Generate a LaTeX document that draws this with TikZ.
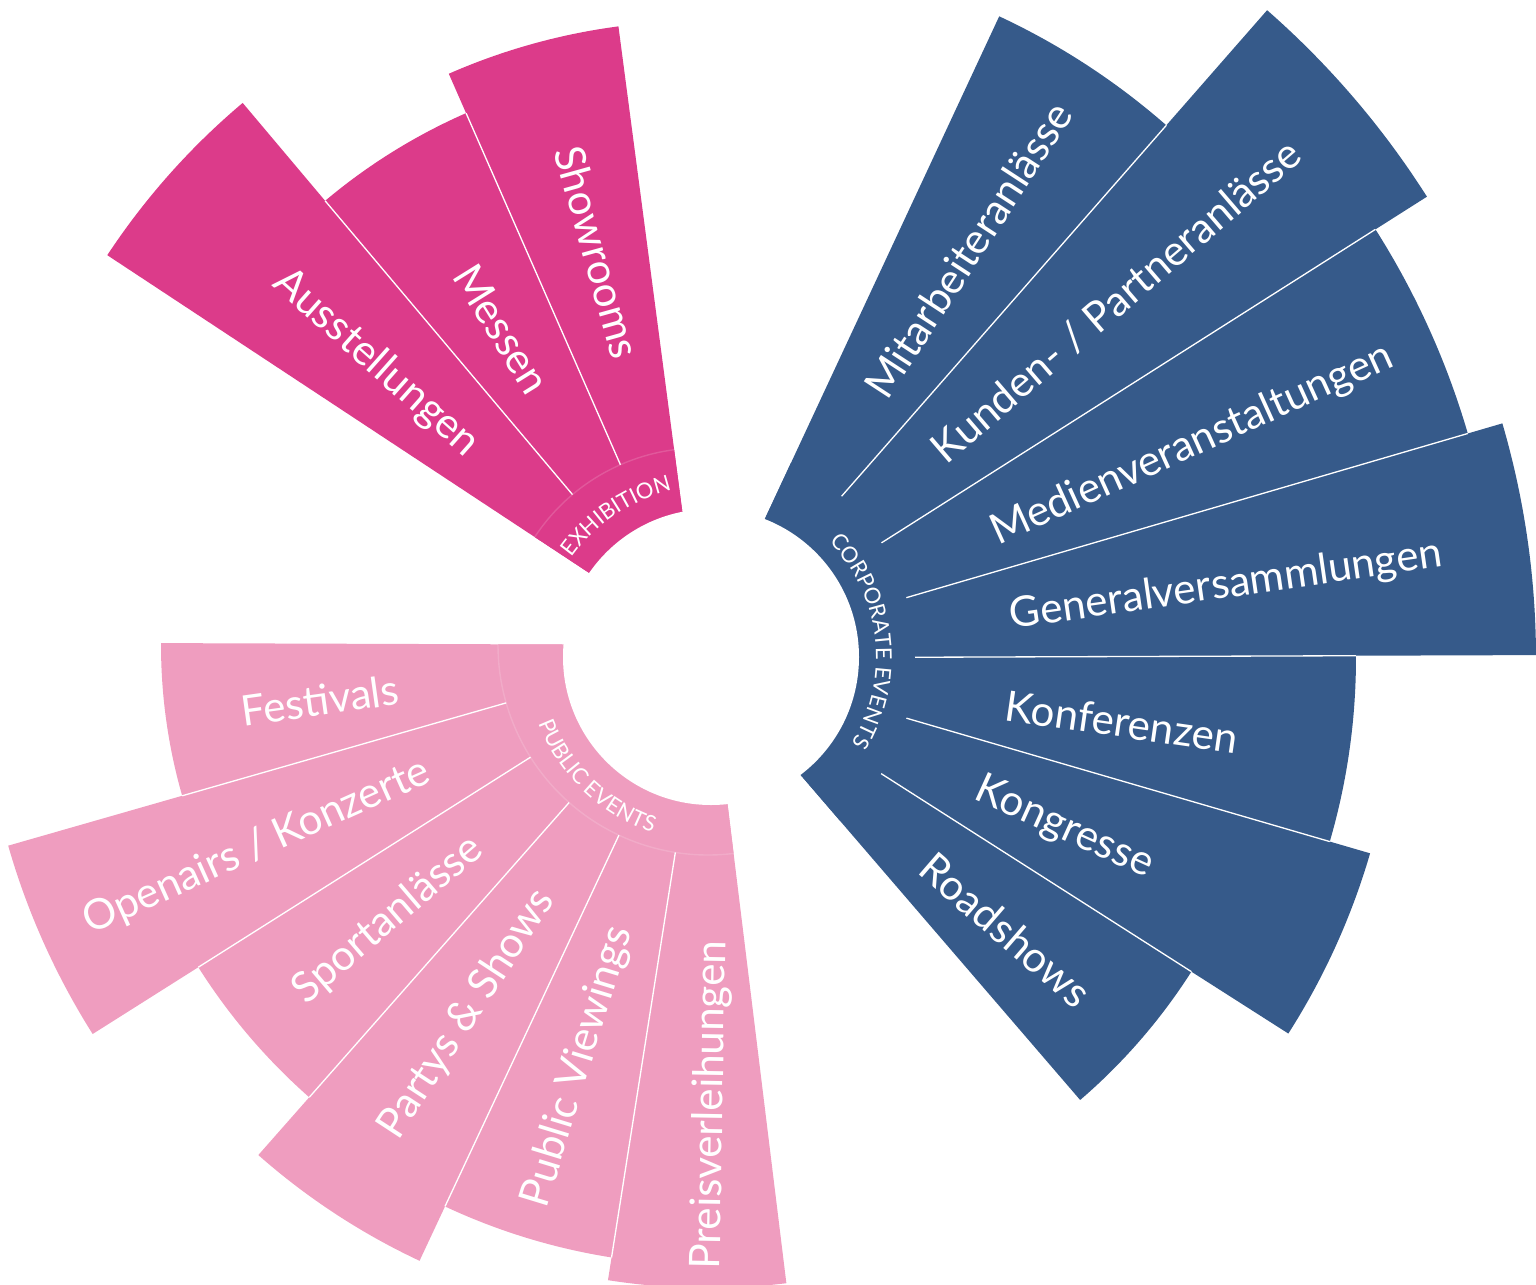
\documentclass[tikz,border=0pt]{standalone}
\usepackage{fontspec}
\setmainfont{Lato}
\usetikzlibrary{calc,decorations.text}
\definecolor{exhib}{RGB}{220,59,138}
\definecolor{corp}{RGB}{54,90,138}
\definecolor{publ}{RGB}{239,157,191}
\newcommand\grplabelfont{\fontsize{12.5}{14}\selectfont}
\newcommand\drawpetal[5]{%
  \fill[#5] ($(#1)+(#2:100)$) arc[start angle=#2, end angle=#3, radius=100]
    -- ($(#1)+(#3:#4)$) arc[start angle=#3, end angle=#2, radius=#4] -- cycle;}
\newcommand\sepline[4]{%
  \draw[sepstyle] ($(#1)+(#2:#3)$) -- ($(#1)+(#2:#4)$);}
\tikzset{
  sepstyle/.style={white, line width=0.75pt},
  bandarc/.style={white, opacity=0.15, line width=0.8pt},
  lbl/.style={text=white, font=\fontsize{24}{28}\selectfont, inner sep=0pt},
}
\begin{document}
\begin{tikzpicture}[x=0.02cm, y=0.02cm]
\useasboundingbox (0,0) rectangle (1536,-1285);
\coordinate (Pe) at (700,-646);
\coordinate (Pc) at (700,-658);
\coordinate (Pp) at (708,-645);
\coordinate (H) at (711,-657);

% Exhibition
\drawpetal{Pe}{130.1}{146.6}{710}{exhib}
\drawpetal{Pe}{113.7}{130.1}{582}{exhib}
\drawpetal{Pe}{97.5}{113.7}{625}{exhib}
\drawpetal{Pe}{97.5}{146.6}{198}{exhib}
\sepline{Pe}{130.1}{198}{582}
\sepline{Pe}{113.7}{198}{582}
\draw[bandarc] ($(Pe)+(97.5:198)$) arc[start angle=97.5, end angle=146.6, radius=198];

% Corporate
\drawpetal{Pc}{48.8}{65}{708}{corp}
\drawpetal{Pc}{32.4}{48.8}{861}{corp}
\drawpetal{Pc}{16.3}{32.4}{800}{corp}
\drawpetal{Pc}{0.2}{16.3}{836}{corp}
\drawpetal{Pc}{-16.25}{0.2}{656}{corp}
\drawpetal{Pc}{-32.55}{-16.25}{698}{corp}
\drawpetal{Pc}{-49.3}{-32.55}{583}{corp}
\drawpetal{Pc}{-49.3}{65}{215}{corp}
\sepline{Pc}{48.8}{215}{708}
\sepline{Pc}{32.4}{215}{800}
\sepline{Pc}{16.3}{215}{800}
\sepline{Pc}{0.2}{215}{656}
\sepline{Pc}{-16.25}{215}{656}
\sepline{Pc}{-32.55}{215}{583}

% Public
\drawpetal{Pp}{179.8}{196}{547}{publ}
\drawpetal{Pp}{196}{212.3}{728}{publ}
\drawpetal{Pp}{212.3}{228.6}{603}{publ}
\drawpetal{Pp}{228.6}{244.9}{680}{publ}
\drawpetal{Pp}{244.9}{261.05}{620}{publ}
\drawpetal{Pp}{261.05}{277}{643}{publ}
\drawpetal{Pp}{179.8}{277}{210}{publ}
\sepline{Pp}{196}{210}{547}
\sepline{Pp}{212.3}{210}{603}
\sepline{Pp}{228.6}{210}{603}
\sepline{Pp}{244.9}{210}{620}
\sepline{Pp}{261.05}{210}{620}
\draw[bandarc] ($(Pp)+(179.8:210)$) arc[start angle=179.8, end angle=277, radius=210];

% central hole
\fill[white] (H) circle[radius=148];

% group labels along arcs
\path[decorate, decoration={text along path, text align=center, text color=white,
  text={|\grplabelfont|EXHIBITION}}]
  ($(H)+(148.9:171)$) arc[start angle=148.9, end angle=98.9, radius=171];
\path[decorate, decoration={text along path, text align=center, text color=white,
  text={|\grplabelfont|CORPORATE EVENTS}}]
  ($(H)+(66.4:165)$) arc[start angle=66.4, end angle=-53.6, radius=165];
\path[decorate, decoration={text along path, text align=center, text color=white,
  text={|\grplabelfont|PUBLIC EVENTS}}]
  ($(H)+(191.3:185)$) arc[start angle=191.3, end angle=261.3, radius=185];

% petal labels
\node[lbl, rotate=-41.6] (aus) at (376,-363) {Ausstellungen};
\node[lbl, rotate=-58.1] (mes) at (502,-329) {Messen};
\node[lbl, rotate=-74.4] (sho) at (598,-252) {Showrooms};

\node[lbl, rotate=56.9] (mit) at (968,-250) {Mitarbeiteranlässe};
\node[lbl, rotate=40.6] (kun) at (1116,-301) {Kunden- / Partneranlässe};
\node[lbl, rotate=24.4] (med) at (1192,-445) {Medienveranstaltungen};
\node[lbl, rotate=8.2] (gen) at (1226,-586) {Generalversammlungen};
\node[lbl, rotate=-8.2] (kon) at (1122,-722) {Konferenzen};
\node[lbl, rotate=-24.4] (kgr) at (1064,-828) {Kongresse};
\node[lbl, rotate=-40.8] (roa) at (1006,-930) {Roadshows};

\node[lbl, rotate=8] (fes) at (320,-700) {Festivals};
\node[lbl, rotate=24.2] (ope) at (257,-847) {Openairs / Konzerte};
\node[lbl, rotate=40.5] (spo) at (388,-920) {Sportanlässe};
\node[lbl, rotate=56.8] (par) at (467,-1014) {Partys \& Shows};
\node[lbl, rotate=73] (pub) at (578,-1067) {Public Viewings};
\node[lbl, rotate=89] (pre) at (711,-1105) {Preisverleihungen};
\end{tikzpicture}
\end{document}
